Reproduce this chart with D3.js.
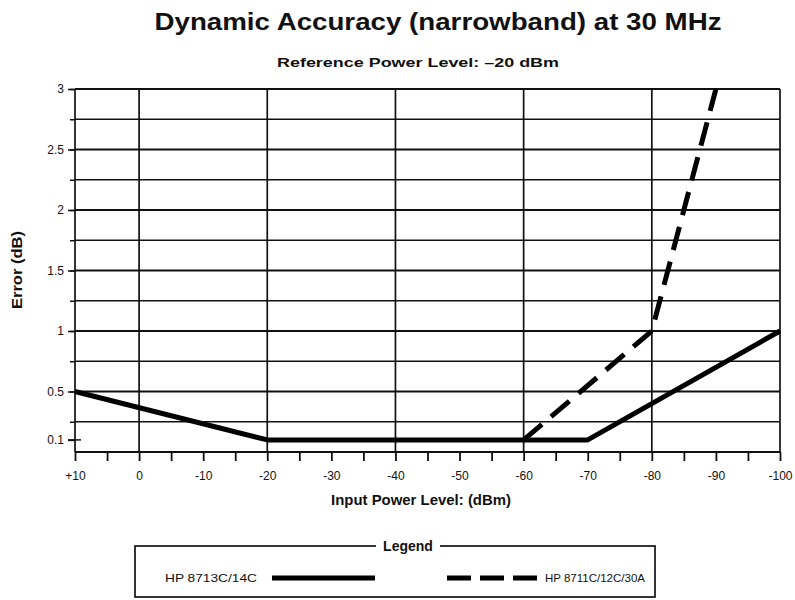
<!DOCTYPE html>
<html>
<head>
<meta charset="utf-8">
<script src="https://cdn.jsdelivr.net/npm/d3@7"></script>
<style>
  body { margin: 0; background: #fff; }
  svg text { font-family: "Liberation Sans", Arial, Helvetica, sans-serif; fill: #111; }
</style>
</head>
<body>
<svg id="chart" width="795" height="600"></svg>
<script>
// series: input power (dBm) -> error (dB)
const solidX = [10, -20, -70, -100]
const solidY = [0.5, 0.1, 0.1, 1.0]
const dashX = [-60, -80, -90]
const dashY = [0.1, 1.0, 3.0]

const xTickValues = [10, 0, -10, -20, -30, -40, -50, -60, -70, -80, -90, -100]
const xTickLabels = ["+10", "0", "-10", "-20", "-30", "-40", "-50", "-60", "-70", "-80", "-90", "-100"]
const xGridValues = [10, 0, -20, -40, -60, -80, -100]
const yTickValues = [0.1, 0.5, 1, 1.5, 2, 2.5, 3]
const yTickLabels = ["0.1", "0.5", "1", "1.5", "2", "2.5", "3"]
const yGridValues = [0.25, 0.5, 0.75, 1, 1.25, 1.5, 1.75, 2, 2.25, 2.5, 2.75, 3]

const legendNames = ["HP 8713C/14C", "HP 8711C/12C/30A"]

const margin = {top: 89, right: 15, bottom: 148, left: 75}
const W = 795, H = 600
const width = W - margin.left - margin.right,
      height = H - margin.top - margin.bottom

const x = d3.scaleLinear().domain([10, -100]).range([0, width])
const y = d3.scaleLinear().domain([0, 3]).range([height, 0])

const svg = d3.select("#chart")

// titles
svg.append("text")
    .attr("x", 438).attr("y", 30)
    .attr("text-anchor", "middle")
    .attr("font-size", 23).attr("font-weight", "bold")
    .attr("textLength", 567).attr("lengthAdjust", "spacingAndGlyphs")
    .text("Dynamic Accuracy (narrowband) at 30 MHz")
svg.append("text")
    .attr("x", 418).attr("y", 67)
    .attr("text-anchor", "middle")
    .attr("font-size", 13).attr("font-weight", "bold")
    .attr("textLength", 282).attr("lengthAdjust", "spacingAndGlyphs")
    .text("Reference Power Level: \u201320 dBm")

const g = svg.append("g")
    .attr("transform", "translate(" + margin.left + "," + margin.top + ")")

// horizontal gridlines
g.append("g")
    .selectAll("line")
    .data(yGridValues)
  .enter().append("line")
    .attr("x1", 0).attr("x2", width)
    .attr("y1", d => y(d)).attr("y2", d => y(d))
    .attr("stroke", "#111")
    .attr("stroke-width", d => d % 0.5 === 0 ? 2 : 1.7)

// vertical gridlines
g.append("g")
    .selectAll("line")
    .data(xGridValues)
  .enter().append("line")
    .attr("y1", 0).attr("y2", height)
    .attr("x1", d => x(d)).attr("x2", d => x(d))
    .attr("stroke", "#111")
    .attr("stroke-width", 1.7)

// bottom axis line
g.append("line")
    .attr("x1", 0).attr("x2", width)
    .attr("y1", height).attr("y2", height)
    .attr("stroke", "#111").attr("stroke-width", 2)

// x axis: minor ticks every 5 dBm, labels every 10
g.append("g")
    .attr("transform", "translate(0," + height + ")")
    .call(d3.axisBottom(x).tickValues(d3.range(10, -101, -5)).tickSize(9).tickFormat(""))
    .call(a => a.select(".domain").remove())
    .call(a => a.selectAll("line").attr("stroke", "#111").attr("stroke-width", 1.8))
g.append("g")
    .attr("transform", "translate(0," + height + ")")
    .call(d3.axisBottom(x).tickValues(xTickValues).tickSize(0).tickPadding(19)
        .tickFormat((d, i) => xTickLabels[i]))
    .call(a => a.select(".domain").remove())
    .call(a => a.selectAll("text").attr("font-size", 12).attr("fill", "#111"))

// y axis: small ticks every 0.25 dB, labelled ticks
g.append("g")
    .call(d3.axisLeft(y).tickValues(yGridValues).tickSize(5).tickFormat(""))
    .call(a => a.select(".domain").remove())
    .call(a => a.selectAll("line").attr("stroke", "#111").attr("stroke-width", 1.5))
g.append("g")
    .call(d3.axisLeft(y).tickValues(yTickValues).tickSize(7).tickPadding(4)
        .tickFormat((d, i) => yTickLabels[i]))
    .call(a => a.select(".domain").remove())
    .call(a => a.selectAll("line").attr("stroke", "#111").attr("stroke-width", 1.5))
    .call(a => a.selectAll("text").attr("font-size", 12).attr("fill", "#111"))
// 0.1 tick crosses the axis
g.append("line")
    .attr("x1", -7).attr("x2", 6)
    .attr("y1", y(0.1)).attr("y2", y(0.1))
    .attr("stroke", "#111").attr("stroke-width", 1.5)

// axis titles
svg.append("text")
    .attr("x", 421).attr("y", 505)
    .attr("text-anchor", "middle")
    .attr("font-size", 15).attr("font-weight", "bold")
    .attr("textLength", 180).attr("lengthAdjust", "spacingAndGlyphs")
    .text("Input Power Level: (dBm)")
svg.append("text")
    .attr("transform", "translate(22,270) rotate(-90)")
    .attr("text-anchor", "middle")
    .attr("font-size", 14).attr("font-weight", "bold")
    .attr("textLength", 78).attr("lengthAdjust", "spacingAndGlyphs")
    .text("Error (dB)")

// data lines
const line = d3.line()
    .x(d => x(d[0]))
    .y(d => y(d[1]))

g.append("path")
    .attr("d", line(solidX.map((v, i) => [v, solidY[i]])))
    .attr("fill", "none")
    .attr("stroke", "#000")
    .attr("stroke-width", 5)
    .attr("stroke-linejoin", "round")

g.append("path")
    .attr("d", line(dashX.map((v, i) => [v, dashY[i]])))
    .attr("fill", "none")
    .attr("stroke", "#000")
    .attr("stroke-width", 5)
    .attr("stroke-dasharray", "24,12")

// legend box
const legend = svg.append("g")
legend.append("rect")
    .attr("x", 135).attr("y", 546)
    .attr("width", 520).attr("height", 51)
    .attr("fill", "none")
    .attr("stroke", "#111").attr("stroke-width", 1.7)
legend.append("rect")
    .attr("x", 376).attr("y", 538)
    .attr("width", 64).attr("height", 16)
    .attr("fill", "#fff")
legend.append("text")
    .attr("x", 408).attr("y", 551)
    .attr("text-anchor", "middle")
    .attr("font-size", 14).attr("font-weight", "bold")
    .text("Legend")

legend.append("text")
    .attr("x", 165).attr("y", 582)
    .attr("font-size", 11.5)
    .attr("textLength", 92).attr("lengthAdjust", "spacingAndGlyphs")
    .text(legendNames[0])
legend.append("line")
    .attr("x1", 272).attr("x2", 375)
    .attr("y1", 578).attr("y2", 578)
    .attr("stroke", "#000").attr("stroke-width", 5)
legend.append("line")
    .attr("x1", 447).attr("x2", 537)
    .attr("y1", 578).attr("y2", 578)
    .attr("stroke", "#000").attr("stroke-width", 5)
    .attr("stroke-dasharray", "24,9")
legend.append("text")
    .attr("x", 545).attr("y", 582)
    .attr("font-size", 11.5)
    .text(legendNames[1])
</script>
</body>
</html>
